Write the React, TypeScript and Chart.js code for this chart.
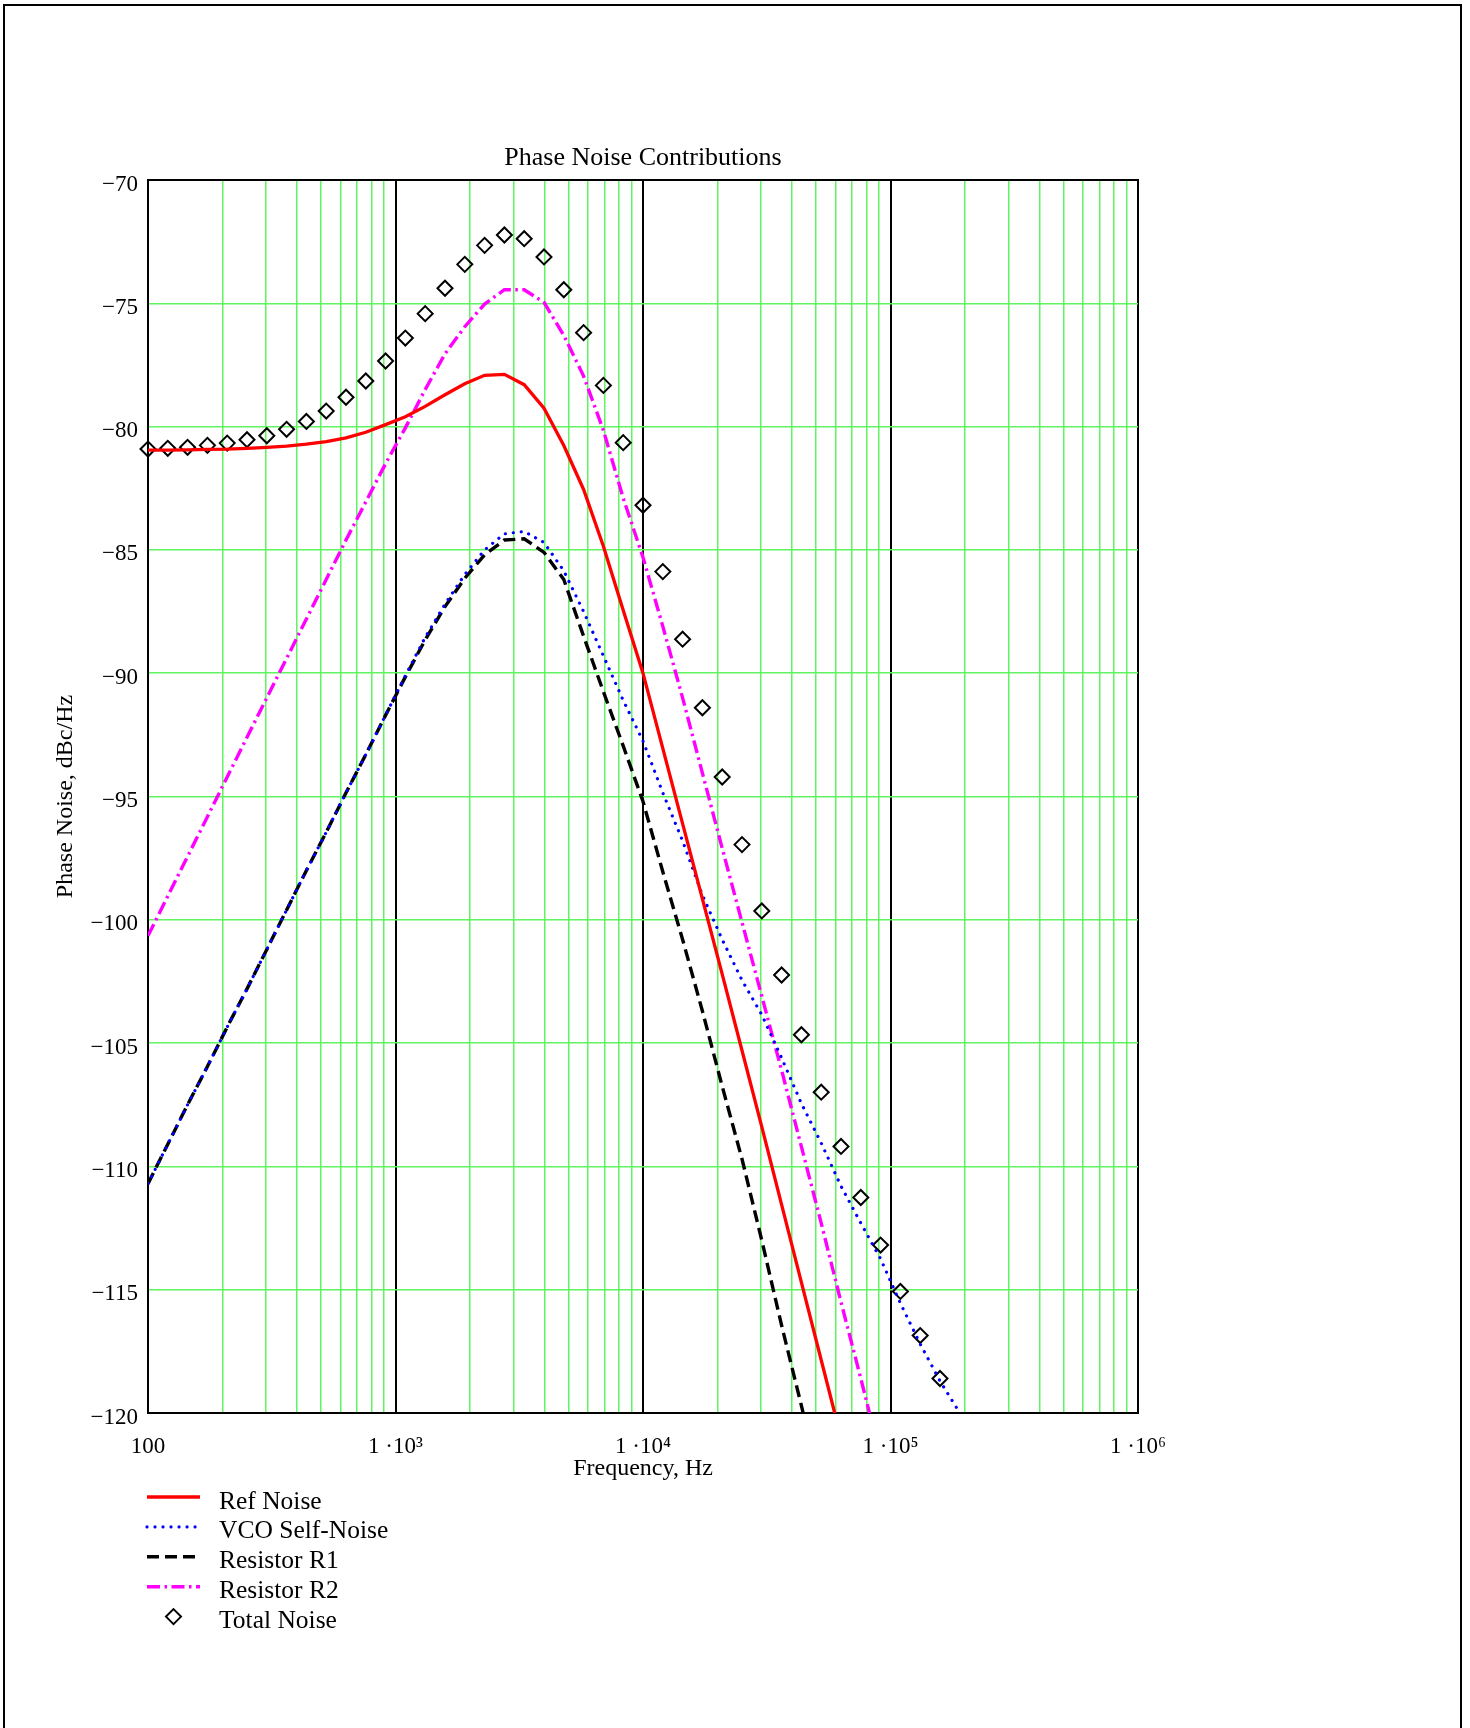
import React, { useEffect, useRef } from 'react';
import { Chart, registerables } from 'chart.js';

Chart.register(...registerables);

const SERIF = "'Liberation Serif', 'Times New Roman', 'DejaVu Serif', serif";
const GRID_GREEN = 'rgb(96, 244, 96)';

// Offset frequencies (Hz) at which the noise contributions were evaluated
const FREQ_HZ = [
  100, 120.2, 144.5, 173.8, 208.9, 251.2, 302.0, 363.1, 436.5, 524.8,
  631.0, 758.6, 912.0, 1096, 1318, 1585, 1905, 2291, 2754, 3311,
  3981, 4786, 5754, 6918, 8318, 10000, 12023, 14454, 17378, 20893,
  25119, 30200, 36308, 43652, 52481, 63096, 75858, 91201, 109648, 131826,
  158489, 190546, 229087,
];

// Phase noise, dBc/Hz
const REF_NOISE = [
  -80.95, -80.95, -80.94, -80.92, -80.91, -80.88, -80.84, -80.79, -80.71, -80.61,
  -80.46, -80.23, -79.92, -79.6, -79.18, -78.71, -78.26, -77.92, -77.88, -78.3,
  -79.25, -80.77, -82.55, -84.85, -87.45, -90.0, -93.05, -96.1, -99.15, -102.2,
  -105.3, -108.4, -111.55, -114.7, -117.85, -121.0,
];

const VCO_NOISE = [
  -110.7, -109.1, -107.5, -105.95, -104.35, -102.8, -101.2, -99.6, -98.0, -96.45,
  -94.85, -93.3, -91.7, -90.1, -88.55, -87.2, -86.0, -85.0, -84.35, -84.25,
  -84.7, -85.85, -87.5, -89.3, -91.1, -92.75, -94.85, -96.8, -99.0, -100.8,
  -102.45, -103.85, -105.6, -107.45, -109.05, -110.8, -112.3, -113.75, -115.55, -117.2,
  -118.7, -120.0, -121.5,
];

const R1_NOISE = [
  -110.7, -109.1, -107.5, -105.95, -104.35, -102.8, -101.2, -99.6, -98.0, -96.45,
  -94.85, -93.3, -91.7, -90.15, -88.65, -87.3, -86.15, -85.2, -84.6, -84.55,
  -85.1, -86.2, -88.5, -90.75, -92.95, -95.2, -98.05, -100.8, -103.7, -106.75,
  -109.7, -113.0, -116.45, -119.7, -123.1,
];

const R2_NOISE = [
  -100.65, -99.04, -97.43, -95.82, -94.21, -92.6, -91.0, -89.4, -87.8, -86.2,
  -84.6, -83.05, -81.5, -80.05, -78.5, -77.05, -75.95, -75.03, -74.45, -74.45,
  -74.96, -76.3, -77.95, -80.15, -82.9, -85.3, -88.1, -91.0, -94.05, -97.1,
  -100.1, -103.1, -106.1, -109.2, -112.3, -115.5, -118.6, -121.8,
];

const TOTAL_NOISE = [
  -80.91, -80.88, -80.84, -80.76, -80.67, -80.53, -80.37, -80.11, -79.79, -79.37,
  -78.81, -78.15, -77.34, -76.41, -75.42, -74.39, -73.42, -72.65, -72.23, -72.38,
  -73.12, -74.45, -76.19, -78.33, -80.65, -83.19, -85.88, -88.62, -91.4, -94.21,
  -96.95, -99.64, -102.24, -104.66, -106.99, -109.19, -111.26, -113.19, -115.07, -116.86,
  -118.6,
];

const SERIES_LABELS = ['Ref Noise', 'VCO Self-Noise', 'Resistor R1', 'Resistor R2', 'Total Noise'];

const FREQ_DECADES = [100, 1e3, 1e4, 1e5, 1e6];
const FREQ_TICK_LABELS = ['100', '1 ·10³', '1 ·10⁴', '1 ·10⁵', '1 ·10⁶'];
const DBC_TICKS = [-120, -115, -110, -105, -100, -95, -90, -85, -80, -75, -70];
const DBC_TICK_LABELS = ['−120', '−115', '−110', '−105', '−100', '−95', '−90', '−85', '−80', '−75', '−70'];

const toPoints = (vals: number[]) => vals.map((y, i) => ({ x: FREQ_HZ[i], y }));
const isDecade = (v: any) => FREQ_DECADES.includes(v);

// 1..9 × each decade, for the logarithmic grid
const LOG_GRID: number[] = [];
for (let d = 0; d < FREQ_DECADES.length - 1; d++) {
  for (let m = 1; m < 10; m++) LOG_GRID.push(FREQ_DECADES[d] * m);
}
LOG_GRID.push(FREQ_DECADES[FREQ_DECADES.length - 1]);

// Vertical key below the axis: line sample (or marker) followed by the series name
const seriesKey = {
  id: 'seriesKey',
  afterDraw(chart: any) {
    const { ctx } = chart;
    const x0 = 147;
    const x1 = 200;
    const textX = 219;
    const firstRow = 1497;
    const rowStep = 29.9;
    ctx.save();
    chart.data.datasets.forEach((ds: any, i: number) => {
      const y = firstRow + i * rowStep;
      if (ds.showLine === false) {
        const cx = (x0 + x1) / 2;
        const r = ds.pointRadius;
        ctx.setLineDash([]);
        ctx.beginPath();
        ctx.moveTo(cx, y - r);
        ctx.lineTo(cx + r, y);
        ctx.lineTo(cx, y + r);
        ctx.lineTo(cx - r, y);
        ctx.closePath();
        ctx.strokeStyle = ds.pointBorderColor;
        ctx.lineWidth = ds.pointBorderWidth;
        ctx.stroke();
      } else {
        ctx.setLineDash(ds.borderDash || []);
        ctx.lineCap = ds.borderCapStyle || 'butt';
        ctx.strokeStyle = ds.borderColor;
        ctx.lineWidth = ds.borderWidth;
        ctx.beginPath();
        ctx.moveTo(x0, y);
        ctx.lineTo(x1, y);
        ctx.stroke();
      }
      ctx.setLineDash([]);
      ctx.fillStyle = '#000';
      ctx.font = `25.5px ${SERIF}`;
      ctx.textAlign = 'left';
      ctx.textBaseline = 'alphabetic';
      ctx.fillText(ds.label, textX, y + 11.5);
    });
    ctx.restore();
  },
};

export default function App() {
  const canvasRef = useRef<HTMLCanvasElement | null>(null);

  useEffect(() => {
    const canvas = canvasRef.current;
    if (!canvas) return;
    const tickFont = { family: SERIF, size: 23 };

    const chart = new Chart(canvas, {
      type: 'line',
      data: {
        datasets: [
          {
            label: SERIES_LABELS[0],
            data: toPoints(REF_NOISE),
            borderColor: '#ff0000',
            borderWidth: 3.3,
            pointRadius: 0,
            tension: 0,
          },
          {
            label: SERIES_LABELS[1],
            data: toPoints(VCO_NOISE),
            borderColor: '#0000ff',
            borderWidth: 3.2,
            borderDash: [0.01, 8],
            borderCapStyle: 'round',
            pointRadius: 0,
            tension: 0,
          },
          {
            label: SERIES_LABELS[2],
            data: toPoints(R1_NOISE),
            borderColor: '#000000',
            borderWidth: 3.4,
            borderDash: [12, 6],
            pointRadius: 0,
            tension: 0,
          },
          {
            label: SERIES_LABELS[3],
            data: toPoints(R2_NOISE),
            borderColor: '#ff00ff',
            borderWidth: 3.4,
            borderDash: [13, 4.5, 2.5, 4.5],
            pointRadius: 0,
            tension: 0,
          },
          {
            label: SERIES_LABELS[4],
            data: toPoints(TOTAL_NOISE),
            showLine: false,
            pointStyle: 'rectRot',
            pointRadius: 7.5,
            pointBorderWidth: 2,
            pointBorderColor: '#000000',
            pointBackgroundColor: 'rgba(0,0,0,0)',
            clip: false,
          },
        ] as any,
      },
      options: {
        responsive: false,
        animation: false,
        devicePixelRatio: 1,
        events: [],
        layout: { padding: { left: 0, top: 0, right: 332, bottom: 245 } },
        plugins: {
          legend: { display: false },
          title: { display: false },
          tooltip: { enabled: false },
        },
        scales: {
          x: {
            type: 'logarithmic',
            position: 'bottom',
            min: 100,
            max: 1e6,
            afterBuildTicks: (s: any) => {
              s.ticks = LOG_GRID.map((v) => ({ value: v }));
            },
            afterFit: (s: any) => {
              s.height = 70;
            },
            grid: {
              drawTicks: false,
              color: (c: any) => (isDecade(c.tick?.value) ? '#000000' : GRID_GREEN),
              lineWidth: (c: any) => (isDecade(c.tick?.value) ? 2 : 1.5),
            },
            border: { display: true, color: '#000000', width: 2 },
            ticks: {
              autoSkip: false,
              maxRotation: 0,
              minRotation: 0,
              padding: 20.5,
              color: '#000000',
              font: tickFont,
              callback: (v: any) => {
                const i = FREQ_DECADES.indexOf(Number(v));
                return i >= 0 ? FREQ_TICK_LABELS[i] : '';
              },
            },
            title: {
              display: true,
              text: 'Frequency, Hz',
              color: '#000000',
              font: { family: SERIF, size: 24 },
              padding: { top: 0, bottom: 0 },
            },
          },
          x2: {
            type: 'logarithmic',
            position: 'top',
            min: 100,
            max: 1e6,
            afterFit: (s: any) => {
              s.height = 180;
            },
            grid: { display: false, drawTicks: false },
            ticks: { display: false },
            border: { display: true, color: '#000000', width: 2 },
            title: {
              display: true,
              text: 'Phase Noise Contributions',
              color: '#000000',
              font: { family: SERIF, size: 26 },
              padding: { top: 142.3, bottom: 0 },
            },
          },
          y: {
            type: 'linear',
            position: 'left',
            min: -120,
            max: -70,
            afterBuildTicks: (s: any) => {
              s.ticks = DBC_TICKS.map((v) => ({ value: v }));
            },
            afterFit: (s: any) => {
              s.width = 148;
            },
            grid: { drawTicks: false, color: GRID_GREEN, lineWidth: 1.5 },
            border: { display: true, color: '#000000', width: 2 },
            ticks: {
              padding: 10,
              labelOffset: 4.5,
              color: '#000000',
              font: tickFont,
              callback: (v: any) => {
                const i = DBC_TICKS.indexOf(Number(v));
                return i >= 0 ? DBC_TICK_LABELS[i] : '';
              },
            },
            title: {
              display: true,
              text: 'Phase Noise, dBc/Hz',
              color: '#000000',
              font: { family: SERIF, size: 24 },
              padding: { top: 51.5, bottom: 0 },
            },
          },
        },
      } as any,
      plugins: [seriesKey],
    });

    return () => chart.destroy();
  }, []);

  return (
    <div
      style={{
        position: 'absolute',
        left: 0,
        top: 0,
        width: 1470,
        height: 1728,
        overflow: 'hidden',
        background: '#ffffff',
      }}
    >
      <canvas
        ref={canvasRef}
        width={1470}
        height={1728}
        style={{ display: 'block', width: 1470, height: 1728 }}
      />
      <div
        style={{
          position: 'absolute',
          left: 3,
          top: 4,
          width: 1455,
          height: 1800,
          border: '2px solid #000000',
          pointerEvents: 'none',
        }}
      />
    </div>
  );
}
